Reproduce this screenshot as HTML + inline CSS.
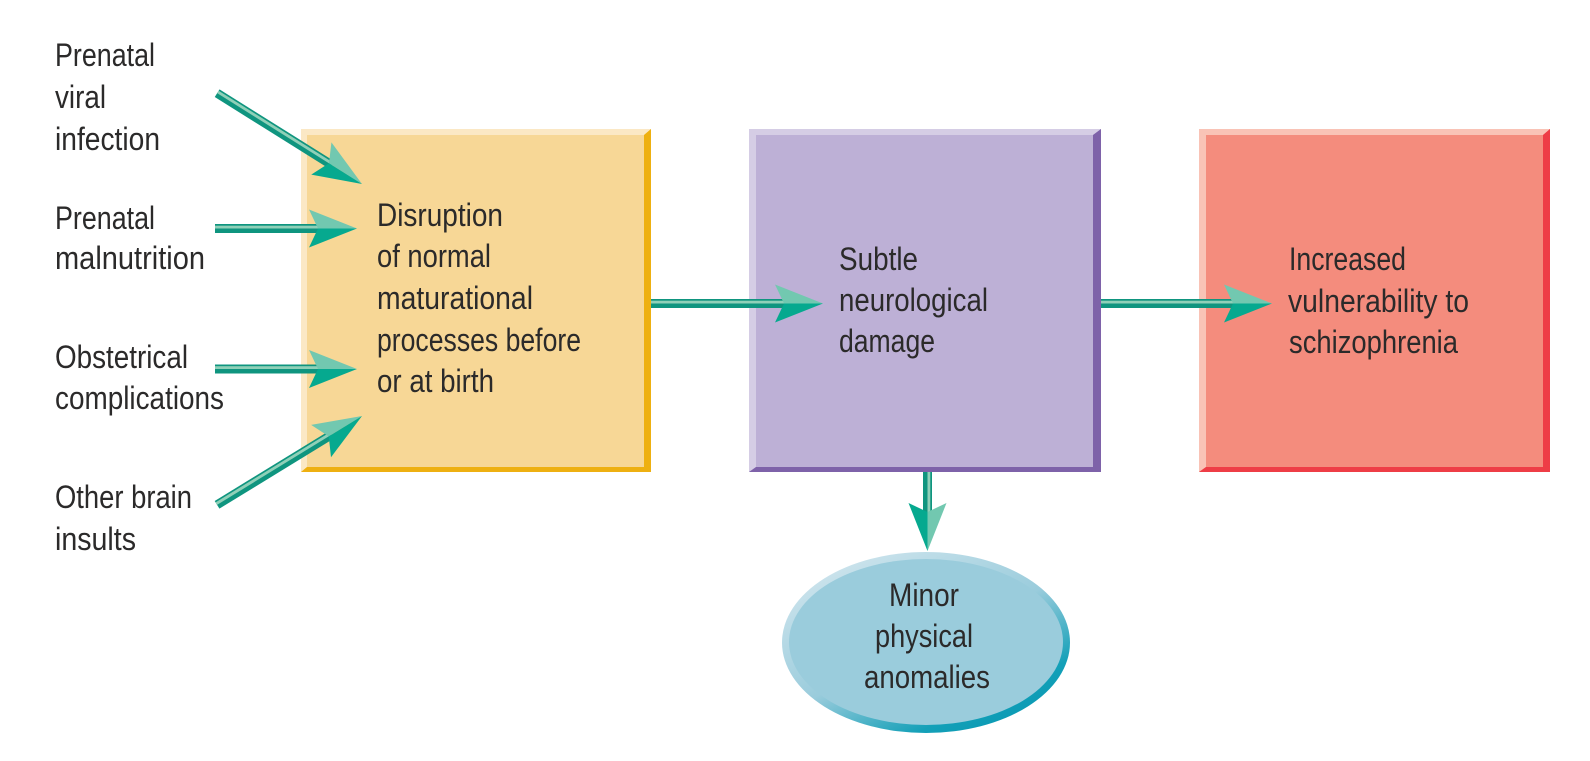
<!DOCTYPE html>
<html><head><meta charset="utf-8"><style>
html,body{margin:0;padding:0;background:#fff;width:1590px;height:761px;overflow:hidden}
svg{display:block}
text{font-family:"Liberation Sans",sans-serif;font-size:32px;fill:#2b2a2a}
</style></head><body>
<svg width="1590" height="761" viewBox="0 0 1590 761" xmlns="http://www.w3.org/2000/svg">
<defs>
<linearGradient id="eg" x1="0.15" y1="0.1" x2="0.8" y2="0.95">
<stop offset="0" stop-color="#cbe3ec"/><stop offset="0.5" stop-color="#9accdc"/><stop offset="0.85" stop-color="#14a0b8"/><stop offset="1" stop-color="#0a9ab4"/>
</linearGradient>
<g id="head">
<polygon points="0,0 -48,-19 -39,0" fill="#72c8b0"/>
<polygon points="0,0 -48,19 -39,0" fill="#06a98f"/>
</g>
</defs>

<!-- Box 1 -->
<rect x="301" y="129" width="350" height="343" fill="#f7d796"/>
<polygon points="301,129 651,129 644,135 307,135 307,467 301,472" fill="#fbe8c5"/>
<polygon points="651,129 651,472 301,472 307,467 644,467 644,135" fill="#eeb011"/>
<!-- Box 2 -->
<rect x="749" y="129" width="352" height="343" fill="#bdb0d6"/>
<polygon points="749,129 1101,129 1093,135 756,135 756,467 749,472" fill="#d5cde5"/>
<polygon points="1101,129 1101,472 749,472 756,467 1093,467 1093,135" fill="#7e62a9"/>
<!-- Box 3 -->
<rect x="1199" y="129" width="351" height="343" fill="#f48c7d"/>
<polygon points="1199,129 1550,129 1543,135 1206,135 1206,467 1199,472" fill="#f9c3b6"/>
<polygon points="1550,129 1550,472 1199,472 1206,467 1543,467 1543,135" fill="#ee3d46"/>
<!-- Ellipse -->
<ellipse cx="926" cy="642.5" rx="144" ry="90.5" fill="url(#eg)"/>
<ellipse cx="926" cy="642" rx="137" ry="83" fill="#9accdc"/>

<!-- Arrows -->
<g transform="translate(362,184) rotate(32.1)">
<rect x="-171" y="-4.5" width="135" height="9" fill="#0f957f"/><rect x="-171" y="-2.8" width="135" height="2.8" fill="#8fd0b8"/><use href="#head"/></g>
<g transform="translate(357,228.5)">
<rect x="-142" y="-4.5" width="106" height="9" fill="#0f957f"/><rect x="-142" y="-2.8" width="106" height="2.8" fill="#8fd0b8"/><use href="#head"/></g>
<g transform="translate(357,369)">
<rect x="-142" y="-4.5" width="106" height="9" fill="#0f957f"/><rect x="-142" y="-2.8" width="106" height="2.8" fill="#8fd0b8"/><use href="#head"/></g>
<g transform="translate(362,416) rotate(-31.5)">
<rect x="-170" y="-4.5" width="134" height="9" fill="#0f957f"/><rect x="-170" y="-2.8" width="134" height="2.8" fill="#8fd0b8"/><use href="#head"/></g>
<g transform="translate(823,303.5)">
<rect x="-172" y="-4.5" width="136" height="9" fill="#0f957f"/><rect x="-172" y="-2.8" width="136" height="2.8" fill="#8fd0b8"/><use href="#head"/></g>
<g transform="translate(1272,303.5)">
<rect x="-171" y="-4.5" width="135" height="9" fill="#0f957f"/><rect x="-171" y="-2.8" width="135" height="2.8" fill="#8fd0b8"/><use href="#head"/></g>
<g transform="translate(927.5,551) rotate(90)">
<rect x="-79" y="-4.5" width="43" height="9" fill="#0f957f"/><rect x="-79" y="-2.8" width="43" height="2.8" fill="#8fd0b8"/><use href="#head"/></g>

<!-- Labels -->
<text x="55" y="66" textLength="100" lengthAdjust="spacingAndGlyphs">Prenatal</text>
<text x="55" y="108" textLength="51" lengthAdjust="spacingAndGlyphs">viral</text>
<text x="55" y="150" textLength="105" lengthAdjust="spacingAndGlyphs">infection</text>
<text x="55" y="229" textLength="100" lengthAdjust="spacingAndGlyphs">Prenatal</text>
<text x="55" y="269" textLength="150" lengthAdjust="spacingAndGlyphs">malnutrition</text>
<text x="55" y="368" textLength="133" lengthAdjust="spacingAndGlyphs">Obstetrical</text>
<text x="55" y="409" textLength="169" lengthAdjust="spacingAndGlyphs">complications</text>
<text x="55" y="508" textLength="137" lengthAdjust="spacingAndGlyphs">Other brain</text>
<text x="55" y="550" textLength="81" lengthAdjust="spacingAndGlyphs">insults</text>

<text x="377" y="226" textLength="126" lengthAdjust="spacingAndGlyphs">Disruption</text>
<text x="377" y="267" textLength="114" lengthAdjust="spacingAndGlyphs">of normal</text>
<text x="377" y="309" textLength="156" lengthAdjust="spacingAndGlyphs">maturational</text>
<text x="377" y="351" textLength="204" lengthAdjust="spacingAndGlyphs">processes before</text>
<text x="377" y="392" textLength="117" lengthAdjust="spacingAndGlyphs">or at birth</text>

<text x="839" y="270" textLength="79" lengthAdjust="spacingAndGlyphs">Subtle</text>
<text x="839" y="311" textLength="149" lengthAdjust="spacingAndGlyphs">neurological</text>
<text x="839" y="352" textLength="96" lengthAdjust="spacingAndGlyphs">damage</text>

<text x="1289" y="270" textLength="117" lengthAdjust="spacingAndGlyphs">Increased</text>
<text x="1288" y="312" textLength="181" lengthAdjust="spacingAndGlyphs">vulnerability to</text>
<text x="1289" y="353" textLength="169" lengthAdjust="spacingAndGlyphs">schizophrenia</text>

<text x="889" y="606" textLength="70" lengthAdjust="spacingAndGlyphs">Minor</text>
<text x="875" y="647" textLength="98" lengthAdjust="spacingAndGlyphs">physical</text>
<text x="864" y="688" textLength="126" lengthAdjust="spacingAndGlyphs">anomalies</text>
</svg>
</body></html>
